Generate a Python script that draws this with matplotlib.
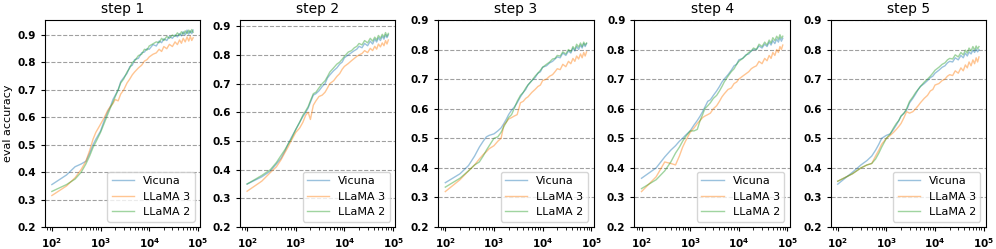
import matplotlib
matplotlib.use("Agg")
from matplotlib import pyplot as plt

# training steps at which eval accuracy was logged
steps = [100, 200, 300, 400, 500, 600, 700, 800,
         1000, 1200, 1400, 1600, 1800, 2000,
         2300, 2600, 3000, 3500, 4000, 4500, 5000,
         6000, 7000, 8000, 9000, 10000,
         12000, 14000, 16000, 18000, 20000,
         23000, 26000, 30000, 34000, 38000, 42000, 46000, 50000,
         55000, 60000, 65000, 70000, 75000, 80000]

model_names = ["Vicuna", "LLaMA 3", "LLaMA 2"]
step_titles = ["step 1", "step 2", "step 3", "step 4", "step 5"]

# step 1
s1_vicuna = [0.355, 0.39, 0.42, 0.43, 0.44, 0.47, 0.50, 0.52,
             0.55, 0.59, 0.62, 0.64, 0.665, 0.68,
             0.70, 0.73, 0.745, 0.76, 0.785, 0.79, 0.81,
             0.815, 0.835, 0.838, 0.85, 0.848,
             0.865, 0.86, 0.878, 0.872, 0.886,
             0.88, 0.895, 0.888, 0.90, 0.893, 0.905, 0.897, 0.912,
             0.90, 0.918, 0.903, 0.915, 0.905, 0.918]
s1_llama3 = [0.315, 0.35, 0.38, 0.41, 0.44, 0.48, 0.52, 0.545,
             0.575, 0.60, 0.625, 0.64, 0.65, 0.665,
             0.66, 0.685, 0.70, 0.725, 0.74, 0.755, 0.765,
             0.78, 0.79, 0.805, 0.81, 0.82,
             0.83, 0.835, 0.848, 0.84, 0.858,
             0.85, 0.866, 0.858, 0.875, 0.865, 0.882, 0.87, 0.888,
             0.875, 0.893, 0.878, 0.895, 0.88, 0.89]
s1_llama2 = [0.33, 0.355, 0.375, 0.40, 0.43, 0.46, 0.49, 0.51,
             0.545, 0.58, 0.61, 0.635, 0.655, 0.675,
             0.70, 0.725, 0.74, 0.765, 0.78, 0.80, 0.805,
             0.825, 0.83, 0.848, 0.845, 0.86,
             0.868, 0.875, 0.872, 0.888, 0.88,
             0.895, 0.888, 0.90, 0.895, 0.908, 0.898, 0.912, 0.903,
             0.915, 0.905, 0.918, 0.908, 0.92, 0.91]

# step 2
s2_vicuna = [0.35, 0.375, 0.395, 0.42, 0.44, 0.465, 0.49, 0.51,
             0.54, 0.565, 0.585, 0.60, 0.615, 0.635,
             0.66, 0.665, 0.675, 0.69, 0.70, 0.72, 0.73,
             0.745, 0.755, 0.768, 0.775, 0.79,
             0.80, 0.808, 0.815, 0.82, 0.83,
             0.825, 0.84, 0.832, 0.848, 0.838, 0.855, 0.845, 0.86,
             0.85, 0.865, 0.855, 0.87, 0.86, 0.87]
s2_llama3 = [0.325, 0.36, 0.39, 0.41, 0.435, 0.46, 0.48, 0.50,
             0.53, 0.545, 0.565, 0.59, 0.60, 0.575,
             0.625, 0.64, 0.655, 0.66, 0.67, 0.685, 0.70,
             0.71, 0.725, 0.735, 0.75, 0.76,
             0.77, 0.78, 0.788, 0.795, 0.80,
             0.805, 0.815, 0.808, 0.823, 0.815, 0.83, 0.82, 0.838,
             0.828, 0.842, 0.832, 0.85, 0.838, 0.852]
s2_llama2 = [0.35, 0.38, 0.40, 0.425, 0.45, 0.47, 0.49, 0.505,
             0.54, 0.565, 0.59, 0.605, 0.62, 0.64,
             0.665, 0.67, 0.685, 0.70, 0.71, 0.725, 0.74,
             0.755, 0.768, 0.775, 0.785, 0.795,
             0.81, 0.815, 0.825, 0.83, 0.84,
             0.835, 0.85, 0.842, 0.858, 0.848, 0.862, 0.852, 0.868,
             0.858, 0.872, 0.862, 0.878, 0.865, 0.875]

# step 3
s3_vicuna = [0.35, 0.38, 0.408, 0.44, 0.47, 0.49, 0.505, 0.51,
             0.515, 0.525, 0.535, 0.55, 0.565, 0.58,
             0.595, 0.605, 0.62, 0.64, 0.655, 0.665, 0.68,
             0.695, 0.705, 0.72, 0.725, 0.74,
             0.745, 0.755, 0.76, 0.768, 0.775,
             0.772, 0.788, 0.78, 0.795, 0.788, 0.805, 0.795, 0.81,
             0.80, 0.815, 0.805, 0.82, 0.81, 0.82]
s3_llama3 = [0.32, 0.36, 0.39, 0.41, 0.43, 0.445, 0.455, 0.465,
             0.475, 0.49, 0.50, 0.545, 0.555, 0.565,
             0.57, 0.575, 0.58, 0.62, 0.625, 0.635, 0.64,
             0.655, 0.665, 0.675, 0.68, 0.695,
             0.70, 0.71, 0.715, 0.725, 0.735,
             0.732, 0.75, 0.742, 0.76, 0.752, 0.77, 0.76, 0.778,
             0.768, 0.785, 0.772, 0.79, 0.778, 0.792]
s3_llama2 = [0.335, 0.365, 0.39, 0.41, 0.42, 0.44, 0.46, 0.475,
             0.50, 0.505, 0.52, 0.54, 0.555, 0.57,
             0.58, 0.60, 0.625, 0.645, 0.655, 0.67, 0.68,
             0.695, 0.71, 0.72, 0.73, 0.74,
             0.75, 0.758, 0.768, 0.77, 0.78,
             0.778, 0.792, 0.785, 0.80, 0.792, 0.81, 0.80, 0.818,
             0.808, 0.822, 0.81, 0.825, 0.815, 0.822]

# step 4
s4_vicuna = [0.365, 0.40, 0.437, 0.46, 0.475, 0.49, 0.50, 0.51,
             0.525, 0.545, 0.56, 0.575, 0.59, 0.605,
             0.625, 0.63, 0.645, 0.66, 0.675, 0.69, 0.70,
             0.715, 0.73, 0.745, 0.75, 0.765,
             0.77, 0.782, 0.785, 0.795, 0.80,
             0.80, 0.812, 0.805, 0.818, 0.81, 0.825, 0.815, 0.83,
             0.82, 0.835, 0.825, 0.84, 0.828, 0.838]
s4_llama3 = [0.32, 0.37, 0.42, 0.415, 0.41, 0.44, 0.47, 0.49,
             0.52, 0.535, 0.55, 0.56, 0.57, 0.575,
             0.58, 0.585, 0.60, 0.61, 0.625, 0.64, 0.65,
             0.665, 0.67, 0.685, 0.69, 0.70,
             0.71, 0.718, 0.725, 0.735, 0.74,
             0.745, 0.76, 0.752, 0.77, 0.762, 0.78, 0.77, 0.79,
             0.78, 0.80, 0.79, 0.81, 0.80, 0.815]
s4_llama2 = [0.33, 0.36, 0.39, 0.42, 0.45, 0.47, 0.49, 0.505,
             0.525, 0.525, 0.53, 0.56, 0.58, 0.60,
             0.61, 0.62, 0.635, 0.645, 0.66, 0.675, 0.69,
             0.71, 0.725, 0.735, 0.75, 0.76,
             0.77, 0.78, 0.79, 0.795, 0.805,
             0.80, 0.818, 0.81, 0.825, 0.815, 0.832, 0.822, 0.84,
             0.83, 0.845, 0.835, 0.85, 0.838, 0.845]

# step 5
s5_vicuna = [0.345, 0.385, 0.41, 0.425, 0.44, 0.46, 0.48, 0.50,
             0.51, 0.515, 0.53, 0.545, 0.56, 0.575,
             0.585, 0.595, 0.62, 0.635, 0.65, 0.665, 0.675,
             0.685, 0.695, 0.705, 0.71, 0.72,
             0.73, 0.74, 0.745, 0.755, 0.76,
             0.758, 0.772, 0.765, 0.78, 0.772, 0.788, 0.778, 0.792,
             0.785, 0.798, 0.79, 0.802, 0.792, 0.80]
s5_llama3 = [0.355, 0.38, 0.40, 0.41, 0.415, 0.44, 0.46, 0.48,
             0.50, 0.51, 0.52, 0.53, 0.54, 0.55,
             0.57, 0.59, 0.585, 0.59, 0.60, 0.61, 0.62,
             0.635, 0.645, 0.66, 0.665, 0.68,
             0.685, 0.695, 0.70, 0.71, 0.715,
             0.712, 0.728, 0.72, 0.738, 0.728, 0.748, 0.738, 0.758,
             0.745, 0.765, 0.752, 0.772, 0.758, 0.775]
s5_llama2 = [0.355, 0.38, 0.40, 0.41, 0.415, 0.43, 0.45, 0.47,
             0.50, 0.515, 0.535, 0.55, 0.56, 0.575,
             0.585, 0.60, 0.625, 0.64, 0.655, 0.665, 0.675,
             0.69, 0.70, 0.71, 0.72, 0.73,
             0.74, 0.75, 0.755, 0.765, 0.77,
             0.768, 0.782, 0.775, 0.79, 0.782, 0.798, 0.788, 0.805,
             0.795, 0.81, 0.798, 0.812, 0.802, 0.81]

all_steps = [
    [s1_vicuna, s1_llama3, s1_llama2],
    [s2_vicuna, s2_llama3, s2_llama2],
    [s3_vicuna, s3_llama3, s3_llama2],
    [s4_vicuna, s4_llama3, s4_llama2],
    [s5_vicuna, s5_llama3, s5_llama2],
]
y_tops = [0.955, 0.922, 0.9, 0.9, 0.9]

colors = ["tab:blue", "tab:orange", "tab:green"]
lefts = [0.045, 0.241, 0.44, 0.637, 0.834]

fig = plt.figure(figsize=(9.96, 2.49), dpi=100)

for i, series in enumerate(all_steps):
    ax = fig.add_axes([lefts[i], 0.088, 0.156, 0.832])
    for name, vals, color in zip(model_names, series, colors):
        ax.plot(steps, vals, color=color, alpha=0.45, linewidth=1, label=name)
    ax.set_xscale("log")
    ax.set_ylim(0.2, y_tops[i])
    ax.set_yticks([0.2, 0.3, 0.4, 0.5, 0.6, 0.7, 0.8, 0.9])
    ax.yaxis.grid(True, linestyle="--", color="gray", alpha=0.75, linewidth=0.8)
    ax.set_axisbelow(True)
    ax.tick_params(labelsize=7.5, length=3)
    for lbl in ax.get_xticklabels() + ax.get_yticklabels():
        lbl.set_fontweight("bold")
    ax.set_title(step_titles[i], fontsize=10, pad=5)
    ax.legend(loc="lower right", fontsize=8)
    if i == 0:
        ax.set_ylabel("eval accuracy", fontsize=8, labelpad=3)

plt.savefig("out.png", dpi=100)
